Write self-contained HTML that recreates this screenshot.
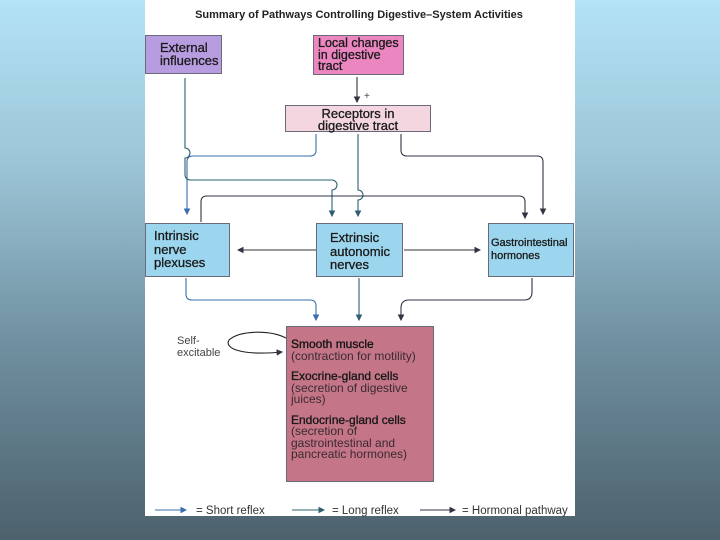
<!DOCTYPE html>
<html><head><style>
html,body{margin:0;padding:0}
body{width:720px;height:540px;overflow:hidden;background:linear-gradient(#b4e2f6 0%,#9cc6d8 30%,#6e8e9e 65%,#4c616c 100%);font-family:"Liberation Sans",sans-serif;position:relative}
#p{position:absolute;left:145px;top:0;width:430px;height:516px;background:#fff}
.b{position:absolute;box-sizing:border-box;border:1px solid #6a6a7a;font-size:13px;line-height:12.5px;color:#1a1a1a;padding:3px 5px;-webkit-text-stroke:0.3px #1a1a1a;white-space:nowrap}
</style></head><body>
<div id="p"></div>
<svg width="720" height="540" style="position:absolute;left:0;top:0" font-family="Liberation Sans, sans-serif">
<defs>
<marker id="a" markerWidth="6" markerHeight="6" refX="5" refY="3" orient="auto"><path d="M0,0L6,3L0,6z" fill="#334"/></marker>
<marker id="bl" markerWidth="6" markerHeight="6" refX="5" refY="3" orient="auto"><path d="M0,0L6,3L0,6z" fill="#3a6cb0"/></marker>
<marker id="tl" markerWidth="6" markerHeight="6" refX="5" refY="3" orient="auto"><path d="M0,0L6,3L0,6z" fill="#2c6070"/></marker>
</defs>
<text x="359" y="18" text-anchor="middle" font-size="11" font-weight="bold" fill="#222">Summary of Pathways Controlling Digestive–System Activities</text>
<g fill="none" stroke-width="1.1">
<path d="M357,77V102" stroke="#333" marker-end="url(#a)"/>
<path d="M316,134V150q0,6-6,6H193q-6,0-6,6v52" stroke="#3a6cb0" marker-end="url(#bl)"/>
<path d="M185,78V148a5,5 0 0 1 0,10v16q0,6 6,6H332a5,5 0 0 1 0,10v26" stroke="#2c6070" marker-end="url(#tl)"/>
<path d="M358,134V190a5,5 0 0 1 0,10v16" stroke="#2c6070" marker-end="url(#tl)"/>
<path d="M401,134V150q0,6 6,6H537q6,0 6,6v52" stroke="#334" marker-end="url(#a)"/>
<path d="M201,222V202q0-6 6-6H519q6,0 6,6v16" stroke="#334" marker-end="url(#a)"/>
<path d="M316,250H238" stroke="#333" marker-end="url(#a)"/>
<path d="M404,250H480" stroke="#333" marker-end="url(#a)"/>
<path d="M186,278V294q0,6 6,6H310q6,0 6,6v14" stroke="#3a6cb0" marker-end="url(#bl)"/>
<path d="M359,278V320" stroke="#2c6070" marker-end="url(#tl)"/>
<path d="M532,278V292q0,8-8,8H409q-8,0-8,8v12" stroke="#334" marker-end="url(#a)"/>
<path d="M286,338C270,330 240,330 229,340C224,348 240,356 282,352" stroke="#222" marker-end="url(#a)"/>
<path d="M155,510H186" stroke="#3a6cb0" marker-end="url(#bl)"/>
<path d="M292,510H324" stroke="#2c6070" marker-end="url(#tl)"/>
<path d="M420,510H455" stroke="#334" marker-end="url(#a)"/>
</g>
<text x="364" y="99" font-size="10" fill="#444">+</text>
<text x="177" y="344" font-size="11" fill="#444">Self-</text>
<text x="177" y="356" font-size="11" fill="#444">excitable</text>
<g font-size="11.5" fill="#333">
<text x="196" y="514">= Short reflex</text>
<text x="332" y="514">= Long reflex</text>
<text x="462" y="514">= Hormonal pathway</text>
</g>
</svg>
<div class="b" style="left:145px;top:35px;width:77px;height:39px;background:#b79ce0;padding-left:14px;padding-top:6px">External<br>influences</div>
<div class="b" style="left:313px;top:35px;width:91px;height:40px;background:#ec86c0;line-height:11.5px;padding:2px 4px;font-size:12.5px">Local changes<br>in digestive<br>tract</div>
<div class="b" style="left:285px;top:105px;width:146px;height:27px;background:#f3d6df;text-align:center;line-height:11.5px;padding-top:2px">Receptors in<br>digestive tract</div>
<div class="b" style="left:145px;top:223px;width:85px;height:54px;background:#9cd6ee;padding:5px 8px;line-height:13.5px">Intrinsic<br>nerve<br>plexuses</div>
<div class="b" style="left:316px;top:223px;width:87px;height:54px;background:#9cd6ee;padding:7px 13px;line-height:13.5px">Extrinsic<br>autonomic<br>nerves</div>
<div class="b" style="left:488px;top:223px;width:86px;height:54px;background:#9cd6ee;padding:13px 2px;font-size:11px;line-height:13px">Gastrointestinal<br>hormones</div>
<div class="b" style="left:286px;top:326px;width:148px;height:156px;background:#c47688;padding:12px 4px;font-size:12px;line-height:11.5px;-webkit-text-stroke:0">
<span style="color:#111;-webkit-text-stroke:0.3px #111">Smooth muscle</span><br><span style="color:#3a2a30">(contraction for motility)</span><br>
<div style="height:9px"></div><span style="-webkit-text-stroke:0.3px #111">Exocrine-gland cells</span><br><span style="color:#3a2a30">(secretion of digestive<br>juices)</span><br>
<div style="height:9px"></div><span style="-webkit-text-stroke:0.3px #111">Endocrine-gland cells</span><br><span style="color:#3a2a30">(secretion of<br>gastrointestinal and<br>pancreatic hormones)</span>
</div>
</body></html>
